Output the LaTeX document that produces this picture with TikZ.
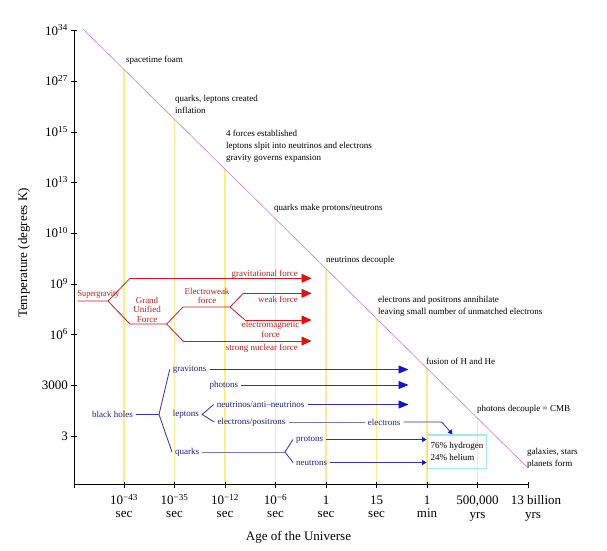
\documentclass[tikz,border=0pt]{standalone}
\usepackage{fontspec}
\usepackage{graphicx}
\setmainfont{Liberation Serif}
\usetikzlibrary{arrows.meta}

\definecolor{redline}{RGB}{200,30,30}
\definecolor{redtext}{RGB}{190,30,30}
\definecolor{redhead}{RGB}{225,15,15}
\definecolor{blueline}{RGB}{50,50,160}
\definecolor{bluelight}{RGB}{120,120,190}
\definecolor{bluetext}{RGB}{30,30,140}
\definecolor{bluehead}{RGB}{20,20,200}
\definecolor{yellowline}{RGB}{245,240,140}
\definecolor{diagline}{RGB}{200,130,200}
\definecolor{cyanbox}{RGB}{160,235,240}

\newcommand{\annfont}{\fontsize{9}{12}\selectfont}

\tikzset{
  ann/.style={font=\annfont, inner sep=0pt, align=left},
  ticklab/.style={font=\fontsize{13}{13}\selectfont, inner sep=0pt},
  rtxt/.style={font=\fontsize{9}{9.5}\selectfont, text=redtext, inner sep=0pt, align=center},
  rline/.style={draw=redline, line width=0.8pt},
  rarrow/.style={rline, -{Triangle[length=10pt,width=9pt,color=redhead]}},
  btxt/.style={font=\annfont, text=bluetext, inner xsep=3pt, inner ysep=0pt},
  bline/.style={draw=blueline, line width=0.8pt},
  barrow/.style={bline, -{Triangle[length=10pt,width=8pt,color=bluehead]}},
  bsmall/.style={bline, -{Triangle[length=4.5pt,width=5pt,color=bluehead]}},
  ylw/.style={draw=yellowline, line width=1.5pt},
  hbox/.style={draw=cyanbox, line width=1.5pt, minimum width=59.4pt, minimum height=33.3pt, inner sep=0pt, align=left, font=\annfont},
}

\begin{document}
\begin{tikzpicture}[x=1pt,y=-1pt]
    \useasboundingbox[fill=white] (0,0) rectangle (607,550);

    %epochs (yellow)
    \draw[ylw] (124,69.4) -- (124,484.5);
    \draw[ylw] (174.5,119.3) -- (174.5,484.5);
    \draw[ylw] (225,169.1) -- (225,484.5);
    \draw[ylw] (275.5,218.9) -- (275.5,484.5);
    \draw[ylw] (326,268.7) -- (326,484.5);
    \draw[ylw] (376.5,318.5) -- (376.5,484.5);
    \draw[ylw] (427,368.4) -- (427,484.5);
    \draw[ylw] (477.5,418.2) -- (477.5,484.5);

    %axis
    \draw[line width=0.8pt] (74,30) -- (74,484.5) -- (528,484.5);
    \draw[line width=0.8pt] (71,30.7) -- (77,30.7) (71,81.4) -- (77,81.4) (71,132) -- (77,132)
        (71,182.7) -- (77,182.7) (71,233.3) -- (77,233.3) (71,284) -- (77,284)
        (71,334.6) -- (77,334.6) (71,385.3) -- (77,385.3) (71,436) -- (77,436);
    \draw[line width=0.8pt] (74,481.5) -- (74,487.5) (124,481.5) -- (124,487.5) (174.5,481.5) -- (174.5,487.5)
        (225,481.5) -- (225,487.5) (275.5,481.5) -- (275.5,487.5) (326,481.5) -- (326,487.5)
        (376.5,481.5) -- (376.5,487.5) (427,481.5) -- (427,487.5) (477.5,481.5) -- (477.5,487.5)
        (528,481.5) -- (528,487.5);

    %cooling
    \draw[draw=diagline, line width=0.6pt] (83,29) -- (527,467);

    %temperature labels
    \node[ticklab, anchor=base east] (y1) at (68,35.2) {10\textsuperscript{34}};
    \node[ticklab, anchor=base east] (y2) at (68,85.9) {10\textsuperscript{27}};
    \node[ticklab, anchor=base east] (y3) at (68,136.5) {10\textsuperscript{15}};
    \node[ticklab, anchor=base east] (y4) at (68,187.2) {10\textsuperscript{13}};
    \node[ticklab, anchor=base east] (y5) at (68,237.8) {10\textsuperscript{10}};
    \node[ticklab, anchor=base east] (y6) at (68,288.5) {10\textsuperscript{9}};
    \node[ticklab, anchor=base east] (y7) at (68,339.1) {10\textsuperscript{6}};
    \node[ticklab, anchor=base east] (y8) at (68,389.8) {3000};
    \node[ticklab, anchor=base east] (y9) at (68,440.5) {3};
    \node[ticklab, rotate=90] (ylab) at (24,253) {Temperature (degrees K)};

    %age labels
    \node[ticklab, anchor=base] (t1) at (124,504.5) {10\textsuperscript{−43}};
    \node[ticklab, anchor=base] (u1) at (124,517) {sec};
    \node[ticklab, anchor=base] (t2) at (174.5,504.5) {10\textsuperscript{−35}};
    \node[ticklab, anchor=base] (u2) at (174.5,517) {sec};
    \node[ticklab, anchor=base] (t3) at (225,504.5) {10\textsuperscript{−12}};
    \node[ticklab, anchor=base] (u3) at (225,517) {sec};
    \node[ticklab, anchor=base] (t4) at (275.5,504.5) {10\textsuperscript{−6}};
    \node[ticklab, anchor=base] (u4) at (275.5,517) {sec};
    \node[ticklab, anchor=base] (t5) at (326,504.5) {1};
    \node[ticklab, anchor=base] (u5) at (326,517) {sec};
    \node[ticklab, anchor=base] (t6) at (376.5,504.5) {15};
    \node[ticklab, anchor=base] (u6) at (376.5,517) {sec};
    \node[ticklab, anchor=base] (t7) at (427,504.5) {1};
    \node[ticklab, anchor=base] (u7) at (427,517) {min};
    \node[ticklab, anchor=base] (t8) at (477.5,504.5) {500,000};
    \node[ticklab, anchor=base] (u8) at (477.5,518) {yrs};
    \node[ticklab, anchor=base] (t9) at (536,504.5) {13 billion};
    \node[ticklab, anchor=base] (u9) at (533,518) {yrs};
    \node[ticklab, anchor=base] (xlab) at (298.5,540) {Age of the Universe};

    %events
    \node[ann, anchor=west] (sf) at (126,60.5) {spacetime foam};
    \node[ann, anchor=north west] (ql) at (175,95) {quarks, leptons created\\inflation};
    \node[ann, anchor=north west] (ff) at (226,130) {4 forces established\\leptons slpit into neutrinos and electrons\\gravity governs expansion};
    \node[ann, anchor=west] (qm) at (274,208) {quarks make protons/neutrons};
    \node[ann, anchor=west] (nd) at (326,260) {neutrinos decouple};
    \node[ann, anchor=north west] (ea) at (378,296) {electrons and positrons annihilate\\leaving small number of unmatched electrons};
    \node[ann, anchor=west] (fu) at (426,361) {fusion of H and He};
    \node[ann, anchor=west] (pd) at (477,409) {photons decouple = CMB};
    \node[ann, anchor=north west] (gs) at (527,448.5) {galaxies, stars\\planets form};

    %forces (red)
    \node[rtxt, anchor=west] (sgt) at (77.5,294.5) {\scalebox{0.9}[1]{Supergravity}};
    \node[rtxt] (gut) at (147,309.5) {Grand\\Unified\\Force};
    \node[rtxt] (ewt) at (207,296) {Electroweak\\force};
    \node[rtxt, anchor=base east] (gft) at (298,276.5) {gravitational force};
    \node[rtxt, anchor=east] (wft) at (298,299) {weak force};
    \node[rtxt] (emt) at (270.5,329.5) {electromagnetic\\force};
    \node[rtxt, anchor=east] (snt) at (298,348) {strong nuclear force};

    \coordinate (rend) at (311.5,0);
    \coordinate (sgl) at (77.5,301);
    \coordinate (sg) at (108,301);
    \coordinate (gr1) at (130,278.3);
    \coordinate (gu1) at (130,324);
    \coordinate (gu2) at (166.7,324);
    \coordinate (ew1) at (183,307);
    \coordinate (ew2) at (230,307);
    \coordinate (wk1) at (243.3,293.3);
    \coordinate (em1) at (245,320);
    \coordinate (sn1) at (183,341);

    \draw[rline] (sgl) -- (sg) -- (gr1);
    \draw[rarrow] (gr1) -- (gr1 -| rend);
    \draw[rline] (sg) -- (gu1) -- (gu2) -- (ew1) -- (ew2) -- (wk1);
    \draw[rarrow] (wk1) -- (wk1 -| rend);
    \draw[rline] (ew2) -- (em1);
    \draw[rarrow] (em1) -- (em1 -| rend);
    \draw[rline] (gu2) -- (sn1);
    \draw[rarrow] (sn1) -- (sn1 -| rend);

    %particles (blue)
    \node[btxt, anchor=east] (bh) at (136,414.5) {black holes};
    \node[btxt, anchor=west] (gr) at (169.7,369.5) {gravitons};
    \node[btxt, anchor=west] (ph) at (206.3,385) {photons};
    \node[btxt, anchor=west] (lp) at (169.7,414.5) {leptons};
    \node[btxt, anchor=west] (nu) at (213.7,404.5) {neutrinos/anti--neutrinos};
    \node[btxt, anchor=west] (eps) at (214.3,422) {electrons/positrons};
    \node[btxt, anchor=west] (el) at (364.7,422) {electrons};
    \node[btxt, anchor=west] (qk) at (172,452) {quarks};
    \node[btxt, anchor=west] (pr) at (293,439.5) {protons};
    \node[btxt, anchor=west] (ne) at (293,462.5) {neutrons};
    \node[hbox] (hh) at (457,451.7) {76\% hydrogen\\24\% helium};

    \coordinate (bend) at (408.5,0);
    \coordinate (bhs) at (159,414.5);
    \coordinate (elc) at (441.7,422);
    \coordinate (qks) at (285,452);

    \draw[bline] (bh.east) -- (bhs);
    \draw[bline] (gr.west) -- (bhs) -- (qk.west);
    \draw[barrow] (gr.east) -- (gr.east -| bend);
    \draw[barrow] (ph.east) -- (ph.east -| bend);
    \draw[bline] (nu.west) -- (lp.east) -- (eps.west);
    \draw[barrow] (nu.east) -- (nu.east -| bend);
    \draw[bline, draw=bluelight] (eps.east) -- (el.west);
    \draw[bsmall] (el.east) -- (elc) -- ([xshift=-4.5pt]hh.north);
    \draw[bline, draw=bluelight] (qk.east) -- (qks);
    \draw[bline] (pr.west) -- (qks) -- (ne.west);
    \draw[bsmall] (pr.east) -- (pr.east -| hh.west);
    \draw[bsmall] (ne.east) -- (ne.east -| hh.west);
\end{tikzpicture}
\end{document}
